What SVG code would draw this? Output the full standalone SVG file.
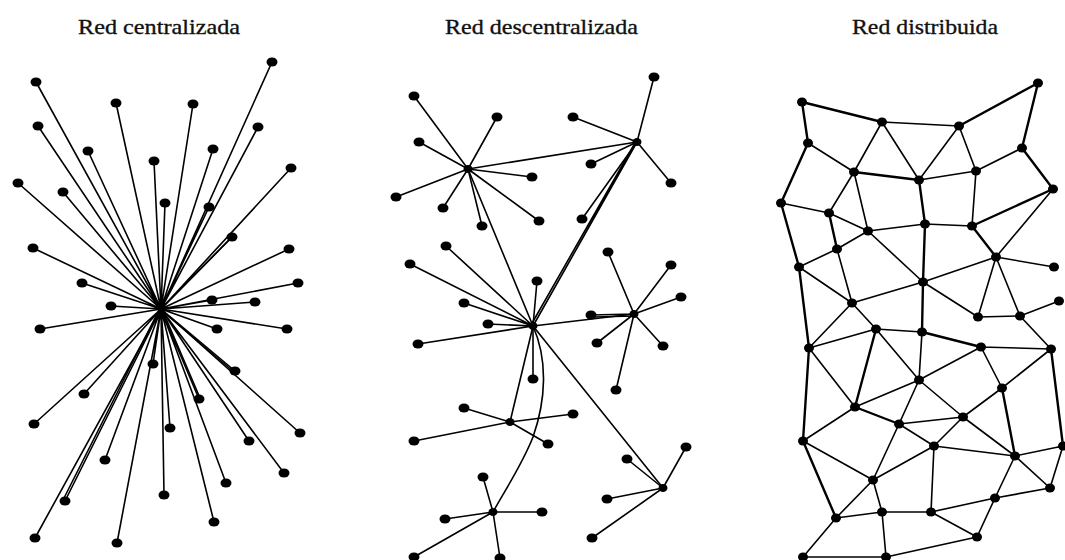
<svg xmlns="http://www.w3.org/2000/svg" width="1065" height="560" viewBox="0 0 1065 560">
  <style>
    .title { font-family: "Liberation Serif", "DejaVu Serif", serif; font-size: 22px; fill: #111; stroke: #111; stroke-width: 0.35; }
    .edge { stroke: #000; stroke-width: 1.6; fill: none; stroke-linecap: round; }
    .thick { stroke-width: 2.4; }
    .node { fill: #000; }
  </style>
  <rect width="1065" height="560" fill="#fff"/>

  <!-- titles -->
  <g id="titles">
    <text class="title" x="78" y="34" textLength="162" lengthAdjust="spacingAndGlyphs">Red centralizada</text>
    <text class="title" x="445" y="34" textLength="193" lengthAdjust="spacingAndGlyphs">Red descentralizada</text>
    <text class="title" x="852" y="34" textLength="146" lengthAdjust="spacingAndGlyphs">Red distribuida</text>
  </g>

  <!-- centralized network: every node tied to one hub -->
  <g id="centralizada">
    <g id="central-links" class="edge">
      <path d="M161 309L272 62M161 309L36 82M161 309L116 103M161 309L193 104M161 309L38 126M161 309L258 127M161 309L88 151M161 309L213 149M161 309L154 161M161 309L291 168M161 309L18 183M161 309L63 192M161 309L165 203M161 309L209 207M161 309L232 237M161 309L33 248M161 309L289 249M161 309L82 283M161 309L298 283M161 309L212 300M161 309L255 302M161 309L111 306"/>
      <path d="M161 309L40 329M161 309L217 329M161 309L287 329M161 309L153 364M161 309L235 371M161 309L84 394M161 309L199 399M161 309L34 424M161 309L170 428M161 309L300 433M161 309L249 441M161 309L105 460M161 309L284 473M161 309L226 483M161 309L164 495M161 309L65 501M161 309L214 522M161 309L35 538M161 309L117 543"/>
      <path d="M160 310L231 238M159 310L63 500M162 309L200 398M161 310L234 372"/>
    </g>
    <g id="central-nodes" class="node">
      <ellipse cx="161" cy="309" rx="3" ry="3"/>
      <ellipse cx="272" cy="62" rx="5.5" ry="4.5"/><ellipse cx="36" cy="82" rx="5.5" ry="4.5"/>
      <ellipse cx="116" cy="103" rx="5.5" ry="4.5"/><ellipse cx="193" cy="104" rx="5.5" ry="4.5"/>
      <ellipse cx="38" cy="126" rx="5.5" ry="4.5"/><ellipse cx="258" cy="127" rx="5.5" ry="4.5"/>
      <ellipse cx="88" cy="151" rx="5.5" ry="4.5"/><ellipse cx="213" cy="149" rx="5.5" ry="4.5"/>
      <ellipse cx="154" cy="161" rx="5.5" ry="4.5"/><ellipse cx="291" cy="168" rx="5.5" ry="4.5"/>
      <ellipse cx="18" cy="183" rx="5.5" ry="4.5"/><ellipse cx="63" cy="192" rx="5.5" ry="4.5"/>
      <ellipse cx="165" cy="203" rx="5.5" ry="4.5"/><ellipse cx="209" cy="207" rx="5.5" ry="4.5"/>
      <ellipse cx="232" cy="237" rx="5.5" ry="4.5"/><ellipse cx="33" cy="248" rx="5.5" ry="4.5"/>
      <ellipse cx="289" cy="249" rx="5.5" ry="4.5"/><ellipse cx="82" cy="283" rx="5.5" ry="4.5"/>
      <ellipse cx="298" cy="283" rx="5.5" ry="4.5"/><ellipse cx="212" cy="300" rx="5.5" ry="4.5"/>
      <ellipse cx="255" cy="302" rx="5.5" ry="4.5"/><ellipse cx="111" cy="306" rx="5.5" ry="4.5"/>
      <ellipse cx="40" cy="329" rx="5.5" ry="4.5"/><ellipse cx="217" cy="329" rx="5.5" ry="4.5"/>
      <ellipse cx="287" cy="329" rx="5.5" ry="4.5"/><ellipse cx="153" cy="364" rx="5.5" ry="4.5"/>
      <ellipse cx="235" cy="371" rx="5.5" ry="4.5"/><ellipse cx="84" cy="394" rx="5.5" ry="4.5"/>
      <ellipse cx="199" cy="399" rx="5.5" ry="4.5"/><ellipse cx="34" cy="424" rx="5.5" ry="4.5"/>
      <ellipse cx="170" cy="428" rx="5.5" ry="4.5"/><ellipse cx="300" cy="433" rx="5.5" ry="4.5"/>
      <ellipse cx="249" cy="441" rx="5.5" ry="4.5"/><ellipse cx="105" cy="460" rx="5.5" ry="4.5"/>
      <ellipse cx="284" cy="473" rx="5.5" ry="4.5"/><ellipse cx="226" cy="483" rx="5.5" ry="4.5"/>
      <ellipse cx="164" cy="495" rx="5.5" ry="4.5"/><ellipse cx="65" cy="501" rx="5.5" ry="4.5"/>
      <ellipse cx="214" cy="522" rx="5.5" ry="4.5"/><ellipse cx="35" cy="538" rx="5.5" ry="4.5"/>
      <ellipse cx="117" cy="543" rx="5.5" ry="4.5"/>
    </g>
  </g>

  <!-- decentralized network: several local hubs joined together -->
  <g id="descentralizada">
    <g id="decentral-links" class="edge">
      <!-- hub A -->
      <path d="M468 169L414 96M468 169L497 117M468 169L419 142M468 169L532 177M468 169L396 197M468 169L443 208M468 169L482 226M468 169L539 221"/>
      <!-- hub B -->
      <path d="M637 142L654 77M637 142L573 117M637 142L591 164M637 142L671 183M637 142L582 219"/>
      <!-- hub C -->
      <path d="M533 326L446 246M533 326L410 264M533 326L537 281M533 326L464 303M533 326L488 324M533 326L418 344M533 326L533 379"/>
      <!-- hub D -->
      <path d="M634 314L608 252M634 314L671 265M634 314L681 297M634 314L591 315M634 316L593 317M634 314L597 343M634 314L663 346M634 314L616 390"/>
      <!-- hub E -->
      <path d="M510 422L464 408M510 422L573 414M510 422L414 441M510 422L548 444"/>
      <!-- hub F -->
      <path d="M493 512L483 477M493 512L445 519M493 512L542 512M493 512L414 557M493 512L500 558"/>
      <!-- hub G -->
      <path d="M663 488L627 459M663 488L686 447M663 488L607 499M663 488L592 538"/>
      <!-- trunk lines between hubs -->
      <path d="M468 169L637 142M468 169L533 326M533 326L637 142M531 325L635 143M533 326L634 314M533 326L510 422M533 326L663 488"/>
      <path d="M533 326C548 360 546 400 533 437C522 465 505 490 493 512"/>
    </g>
    <g id="decentral-nodes" class="node">
      <ellipse cx="468" cy="169" rx="4.5" ry="4"/><ellipse cx="637" cy="142" rx="4.5" ry="4"/>
      <ellipse cx="533" cy="326" rx="4.5" ry="4"/><ellipse cx="634" cy="314" rx="4.5" ry="4"/>
      <ellipse cx="510" cy="422" rx="4.5" ry="4"/><ellipse cx="493" cy="512" rx="4.5" ry="4"/>
      <ellipse cx="663" cy="488" rx="4.5" ry="4"/>
      <ellipse cx="414" cy="96" rx="5.5" ry="4.5"/><ellipse cx="497" cy="117" rx="5.5" ry="4.5"/>
      <ellipse cx="419" cy="142" rx="5.5" ry="4.5"/><ellipse cx="532" cy="177" rx="5.5" ry="4.5"/>
      <ellipse cx="396" cy="197" rx="5.5" ry="4.5"/><ellipse cx="443" cy="208" rx="5.5" ry="4.5"/>
      <ellipse cx="482" cy="226" rx="5.5" ry="4.5"/><ellipse cx="539" cy="221" rx="5.5" ry="4.5"/>
      <ellipse cx="654" cy="77" rx="5.5" ry="4.5"/><ellipse cx="573" cy="117" rx="5.5" ry="4.5"/>
      <ellipse cx="591" cy="164" rx="5.5" ry="4.5"/><ellipse cx="671" cy="183" rx="5.5" ry="4.5"/>
      <ellipse cx="582" cy="219" rx="5.5" ry="4.5"/>
      <ellipse cx="446" cy="246" rx="5.5" ry="4.5"/><ellipse cx="410" cy="264" rx="5.5" ry="4.5"/>
      <ellipse cx="537" cy="281" rx="5.5" ry="4.5"/><ellipse cx="464" cy="303" rx="5.5" ry="4.5"/>
      <ellipse cx="488" cy="324" rx="5.5" ry="4.5"/><ellipse cx="418" cy="344" rx="5.5" ry="4.5"/>
      <ellipse cx="533" cy="379" rx="5.5" ry="4.5"/>
      <ellipse cx="608" cy="252" rx="5.5" ry="4.5"/><ellipse cx="671" cy="265" rx="5.5" ry="4.5"/>
      <ellipse cx="681" cy="297" rx="5.5" ry="4.5"/><ellipse cx="591" cy="315" rx="5.5" ry="4.5"/>
      <ellipse cx="597" cy="343" rx="5.5" ry="4.5"/><ellipse cx="663" cy="346" rx="5.5" ry="4.5"/>
      <ellipse cx="616" cy="390" rx="5.5" ry="4.5"/>
      <ellipse cx="464" cy="408" rx="5.5" ry="4.5"/><ellipse cx="573" cy="414" rx="5.5" ry="4.5"/>
      <ellipse cx="414" cy="441" rx="5.5" ry="4.5"/><ellipse cx="548" cy="444" rx="5.5" ry="4.5"/>
      <ellipse cx="483" cy="477" rx="5.5" ry="4.5"/><ellipse cx="445" cy="519" rx="5.5" ry="4.5"/>
      <ellipse cx="542" cy="512" rx="5.5" ry="4.5"/><ellipse cx="414" cy="557" rx="5.5" ry="4.5"/>
      <ellipse cx="500" cy="558" rx="5.5" ry="4.5"/>
      <ellipse cx="627" cy="459" rx="5.5" ry="4.5"/><ellipse cx="686" cy="447" rx="5.5" ry="4.5"/>
      <ellipse cx="607" cy="499" rx="5.5" ry="4.5"/><ellipse cx="592" cy="538" rx="5.5" ry="4.5"/>
    </g>
  </g>

  <!-- distributed network: a mesh -->
  <g id="distribuida">
    <g id="mesh-links" class="edge">
      <path class="thick" d="M802 102L882 122M802 102L808 143M959 126L1038 83M1038 83L1022 148M808 143L781 203M854 172L919 180M1022 148L1053 189M781 203L799 267M972 226L1053 189M972 226L996 257M923 282L922 332M922 332L981 347M876 329L855 407M809 348L803 441M1002 388L1015 456M855 407L899 424M803 441L836 518M1051 349L1063 446M799 267L809 348M919 180L925 224M829 213L837 249M925 224L923 282"/>
      <path d="M882 122L959 126M882 122L854 172M882 122L919 180M959 126L919 180M959 126L976 171M808 143L854 172M919 180L976 171M976 171L1022 148M854 172L829 213M854 172L868 231M781 203L829 213M829 213L868 231M868 231L925 224M976 171L972 226M925 224L972 226M1053 189L996 257M996 257L1054 267M996 257L923 282M996 257L978 317M996 257L1020 316M868 231L923 282M799 267L837 249M837 249L868 231M837 249L852 303M799 267L852 303M852 303L923 282M923 282L978 317M1059 301L1020 316M978 317L1020 316"/>
      <path d="M852 303L809 348M852 303L876 329M876 329L922 332M876 329L809 348M876 329L919 380M922 332L919 380M919 380L981 347M981 347L1051 349M1020 316L1051 349M981 347L1002 388M1051 349L1002 388M809 348L855 407M919 380L855 407M919 380L899 424M919 380L963 417M899 424L963 417M1002 388L963 417M855 407L803 441M899 424L934 446M963 417L934 446M963 417L1015 456M899 424L873 480M934 446L1015 456M934 446L873 480M934 446L931 512M803 441L873 480M1063 446L1015 456M1063 446L1050 488M1015 456L1050 488M1015 456L995 498M873 480L836 518M873 480L882 512M836 518L882 512M882 512L931 512M931 512L995 498M995 498L1050 488M931 512L977 537M995 498L977 537M836 518L803 557M882 512L886 557M803 557L886 557M886 557L977 537"/>
    </g>
    <g id="mesh-nodes" class="node">
      <ellipse cx="802" cy="102" rx="5" ry="4.5"/><ellipse cx="882" cy="122" rx="5" ry="4.5"/>
      <ellipse cx="959" cy="126" rx="5" ry="4.5"/><ellipse cx="1038" cy="83" rx="5" ry="4.5"/>
      <ellipse cx="808" cy="143" rx="5" ry="4.5"/><ellipse cx="854" cy="172" rx="5" ry="4.5"/>
      <ellipse cx="919" cy="180" rx="5" ry="4.5"/><ellipse cx="976" cy="171" rx="5" ry="4.5"/>
      <ellipse cx="1022" cy="148" rx="5" ry="4.5"/><ellipse cx="1053" cy="189" rx="5" ry="4.5"/>
      <ellipse cx="781" cy="203" rx="5" ry="4.5"/><ellipse cx="829" cy="213" rx="5" ry="4.5"/>
      <ellipse cx="868" cy="231" rx="5" ry="4.5"/><ellipse cx="925" cy="224" rx="5" ry="4.5"/>
      <ellipse cx="972" cy="226" rx="5" ry="4.5"/><ellipse cx="996" cy="257" rx="5" ry="4.5"/>
      <ellipse cx="1054" cy="267" rx="5" ry="4.5"/><ellipse cx="837" cy="249" rx="5" ry="4.5"/>
      <ellipse cx="799" cy="267" rx="5" ry="4.5"/><ellipse cx="923" cy="282" rx="5" ry="4.5"/>
      <ellipse cx="852" cy="303" rx="5" ry="4.5"/><ellipse cx="1059" cy="301" rx="5" ry="4.5"/>
      <ellipse cx="978" cy="317" rx="5" ry="4.5"/><ellipse cx="1020" cy="316" rx="5" ry="4.5"/>
      <ellipse cx="876" cy="329" rx="5" ry="4.5"/><ellipse cx="922" cy="332" rx="5" ry="4.5"/>
      <ellipse cx="809" cy="348" rx="5" ry="4.5"/><ellipse cx="981" cy="347" rx="5" ry="4.5"/>
      <ellipse cx="1051" cy="349" rx="5" ry="4.5"/><ellipse cx="919" cy="380" rx="5" ry="4.5"/>
      <ellipse cx="1002" cy="388" rx="5" ry="4.5"/><ellipse cx="855" cy="407" rx="5" ry="4.5"/>
      <ellipse cx="899" cy="424" rx="5" ry="4.5"/><ellipse cx="963" cy="417" rx="5" ry="4.5"/>
      <ellipse cx="803" cy="441" rx="5" ry="4.5"/><ellipse cx="934" cy="446" rx="5" ry="4.5"/>
      <ellipse cx="1015" cy="456" rx="5" ry="4.5"/><ellipse cx="1063" cy="446" rx="5" ry="4.5"/>
      <ellipse cx="873" cy="480" rx="5" ry="4.5"/><ellipse cx="1050" cy="488" rx="5" ry="4.5"/>
      <ellipse cx="995" cy="498" rx="5" ry="4.5"/><ellipse cx="836" cy="518" rx="5" ry="4.5"/>
      <ellipse cx="882" cy="512" rx="5" ry="4.5"/><ellipse cx="931" cy="512" rx="5" ry="4.5"/>
      <ellipse cx="977" cy="537" rx="5" ry="4.5"/><ellipse cx="803" cy="557" rx="5" ry="4.5"/>
      <ellipse cx="886" cy="557" rx="5" ry="4.5"/>
    </g>
  </g>
</svg>
